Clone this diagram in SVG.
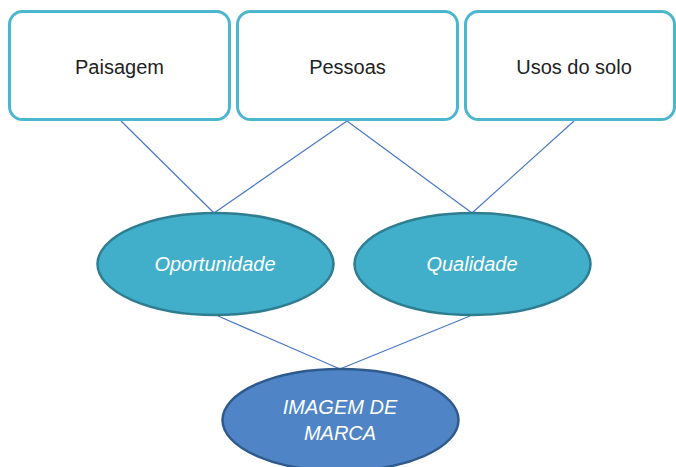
<svg xmlns="http://www.w3.org/2000/svg" width="676" height="467" viewBox="0 0 676 467">
<style>
.box{fill:#fff;stroke:#4db6cf;stroke-width:3}
.lbl{font-family:"Liberation Sans",Arial,sans-serif;font-size:20px;fill:#222;text-anchor:middle}
.ell{fill:#41afc9;stroke:#2f7d90;stroke-width:2.5}
.ell2{fill:#4f84c6;stroke:#2f5a8c;stroke-width:2.5}
.it{font-family:"Liberation Sans",Arial,sans-serif;font-size:20px;font-style:italic;fill:#fff;text-anchor:middle}
.con line{stroke:#4a78c8;stroke-width:1.2}
</style>
<rect width="676" height="467" fill="#fff"/>
<g id="connectors" class="con">
<line x1="121" y1="121" x2="214" y2="213"/>
<line x1="347" y1="121" x2="214" y2="213"/>
<line x1="347" y1="121" x2="472" y2="213"/>
<line x1="574" y1="121" x2="472" y2="213"/>
<line x1="218" y1="316" x2="340" y2="369"/>
<line x1="470" y1="316" x2="340" y2="369"/>
</g>
<g id="paisagem"><rect class="box" x="9.5" y="11.5" width="220" height="108" rx="13"/><text class="lbl" x="119.5" y="74">Paisagem</text></g>
<g id="pessoas"><rect class="box" x="237.5" y="11.5" width="220" height="108" rx="13"/><text class="lbl" x="347.5" y="74">Pessoas</text></g>
<g id="usos"><rect class="box" x="465.5" y="11.5" width="209" height="108" rx="13"/><text class="lbl" x="574" y="74">Usos do solo</text></g>
<g id="oportunidade"><ellipse class="ell" cx="215.5" cy="264" rx="118" ry="51"/><text class="it" x="215" y="271">Oportunidade</text></g>
<g id="qualidade"><ellipse class="ell" cx="472.5" cy="264" rx="118" ry="51"/><text class="it" x="472" y="271">Qualidade</text></g>
<g id="imagem"><ellipse class="ell2" cx="340.5" cy="420" rx="118" ry="51"/><text class="it" x="340" y="414">IMAGEM DE</text><text class="it" x="340" y="440">MARCA</text></g>
</svg>
